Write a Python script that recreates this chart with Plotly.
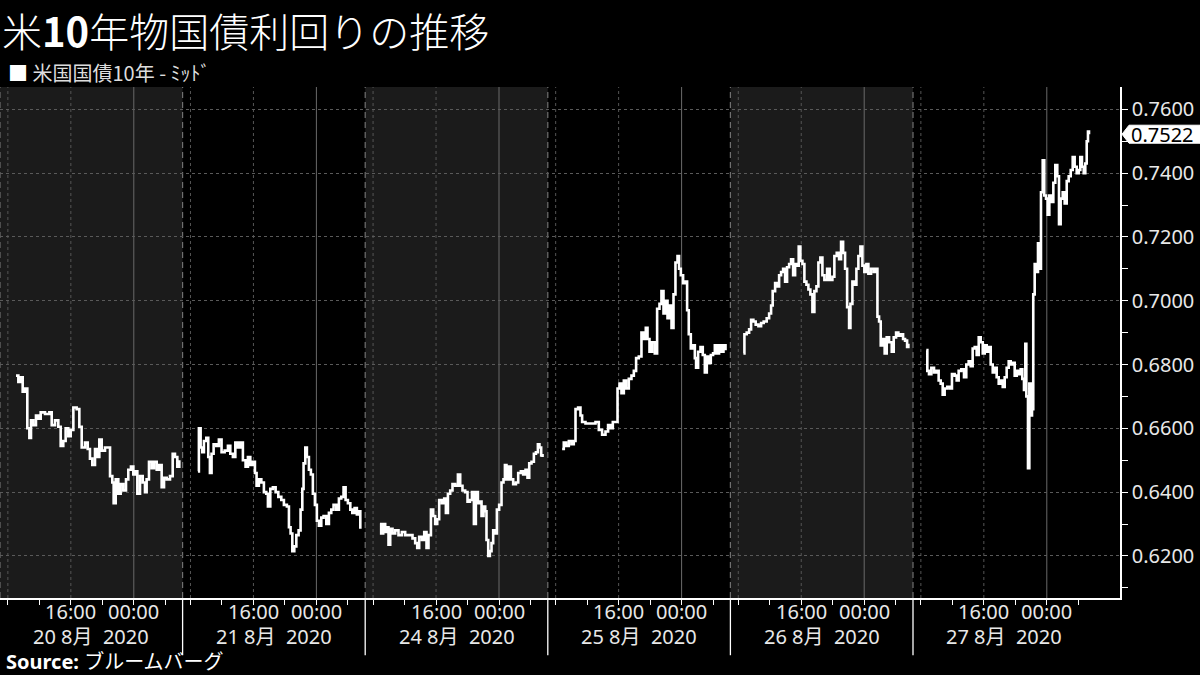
import plotly.graph_objects as go

# ---------------- data ----------------
# hours since session start (07:00 local) and yield values, one list pair per session
dates = ["20 8月  2020", "21 8月  2020", "24 8月  2020", "25 8月  2020", "26 8月  2020", "27 8月  2020"]

h_0820 = [2.03, 2.33, 2.63, 2.88, 3.18, 3.47, 3.73, 3.94, 4.23, 4.57, 4.87, 5.17, 5.72, 6.27, 6.57, 6.99,
          7.41, 7.71, 8.04, 8.34, 8.68, 8.98, 9.32, 9.74, 10.08, 10.38, 10.80, 11.14, 11.43, 11.73, 12.07,
          12.37, 12.62, 12.92, 13.34, 13.76, 13.98, 14.27, 14.44, 14.70, 15.03, 15.33, 15.67, 16.01, 16.30,
          16.64, 16.94, 17.24, 17.45, 17.79, 18.13, 18.42, 18.63, 18.93, 19.27, 19.57, 19.91, 20.24, 20.54,
          20.84, 21.18, 21.60, 21.94, 22.23, 22.53, 22.78]
v_0820 = [0.6765, 0.6745, 0.6760, 0.6715, 0.6725, 0.6600, 0.6570, 0.6625, 0.6610, 0.6640, 0.6630, 0.6650,
          0.6645, 0.6650, 0.6610, 0.6625, 0.6605, 0.6545, 0.6560, 0.6600, 0.6575, 0.6595, 0.6665, 0.6660,
          0.6605, 0.6540, 0.6555, 0.6535, 0.6505, 0.6485, 0.6535, 0.6510, 0.6565, 0.6530, 0.6540, 0.6540,
          0.6450, 0.6430, 0.6365, 0.6440, 0.6395, 0.6425, 0.6405, 0.6440, 0.6470, 0.6480, 0.6455, 0.6465,
          0.6395, 0.6450, 0.6430, 0.6400, 0.6440, 0.6495, 0.6475, 0.6495, 0.6470, 0.6485, 0.6415, 0.6445,
          0.6440, 0.6450, 0.6520, 0.6510, 0.6480, 0.6500]

h_0821 = [1.95, 2.07, 2.29, 2.50, 2.71, 3.01, 3.26, 3.47, 3.68, 3.94, 4.28, 4.61, 4.95, 5.34, 5.76, 6.06,
          6.39, 6.70, 7.03, 7.33, 7.66, 8.00, 8.30, 8.60, 8.93, 9.19, 9.40, 9.69, 10.00, 10.33, 10.63, 10.84,
          11.14, 11.47, 11.82, 12.16, 12.54, 12.87, 13.25, 13.51, 13.72, 13.94, 14.19, 14.45, 14.74, 14.99,
          15.21, 15.37, 15.59, 15.79, 16.05, 16.30, 16.55, 16.81, 17.06, 17.32, 17.62, 17.91, 18.26, 18.59,
          18.89, 19.18, 19.53, 19.86, 20.16, 20.45, 20.71, 21.00, 21.31, 21.56, 21.85, 22.14, 22.40, 22.58]
v_0821 = [0.6465, 0.6600, 0.6540, 0.6525, 0.6560, 0.6570, 0.6510, 0.6460, 0.6520, 0.6550, 0.6545, 0.6565,
          0.6525, 0.6530, 0.6545, 0.6520, 0.6510, 0.6555, 0.6540, 0.6555, 0.6500, 0.6480, 0.6510, 0.6485,
          0.6495, 0.6460, 0.6420, 0.6440, 0.6430, 0.6400, 0.6395, 0.6355, 0.6410, 0.6415, 0.6400, 0.6385,
          0.6375, 0.6360, 0.6355, 0.6290, 0.6270, 0.6215, 0.6230, 0.6265, 0.6280, 0.6345, 0.6410, 0.6490,
          0.6540, 0.6510, 0.6470, 0.6455, 0.6395, 0.6360, 0.6310, 0.6295, 0.6320, 0.6325, 0.6300, 0.6335,
          0.6345, 0.6360, 0.6345, 0.6380, 0.6385, 0.6415, 0.6375, 0.6365, 0.6345, 0.6335, 0.6350, 0.6330,
          0.6340, 0.6285]

h_0824 = [1.87, 2.03, 2.29, 2.54, 2.80, 2.96, 3.18, 3.47, 3.81, 4.23, 4.66, 5.08, 5.59, 6.01, 6.35, 6.61,
          6.86, 7.20, 7.50, 7.79, 8.04, 8.35, 8.64, 8.89, 9.15, 9.40, 9.74, 10.04, 10.25, 10.51, 10.80, 11.09,
          11.43, 11.78, 12.07, 12.36, 12.70, 13.00, 13.30, 13.56, 13.81, 14.06, 14.32, 14.57, 14.78, 15.03,
          15.25, 15.41, 15.63, 15.84, 16.05, 16.26, 16.52, 16.73, 17.02, 17.32, 17.57, 17.75, 17.95, 18.21,
          18.51, 18.80, 19.15, 19.44, 19.78, 20.07, 20.37, 20.62, 20.84, 21.13, 21.43, 21.69, 21.94, 22.14,
          22.36, 22.53]
v_0824 = [0.6300, 0.6270, 0.6300, 0.6275, 0.6290, 0.6235, 0.6285, 0.6270, 0.6280, 0.6265, 0.6275, 0.6265,
          0.6265, 0.6255, 0.6240, 0.6225, 0.6260, 0.6250, 0.6275, 0.6225, 0.6265, 0.6345, 0.6325, 0.6300,
          0.6315, 0.6375, 0.6365, 0.6380, 0.6335, 0.6395, 0.6405, 0.6425, 0.6420, 0.6455, 0.6420, 0.6405,
          0.6400, 0.6370, 0.6375, 0.6400, 0.6300, 0.6400, 0.6365, 0.6370, 0.6325, 0.6355, 0.6340, 0.6250,
          0.6200, 0.6215, 0.6240, 0.6280, 0.6270, 0.6345, 0.6360, 0.6430, 0.6440, 0.6485, 0.6440, 0.6480,
          0.6440, 0.6425, 0.6430, 0.6460, 0.6465, 0.6455, 0.6470, 0.6445, 0.6490, 0.6495, 0.6520, 0.6525,
          0.6550, 0.6540, 0.6515, 0.6510]

h_0825 = [1.82, 2.03, 2.33, 2.67, 3.01, 3.30, 3.52, 3.85, 4.15, 4.36, 4.79, 5.43, 6.06, 6.48, 6.90, 7.33,
          7.66, 7.97, 8.26, 8.60, 8.86, 9.11, 9.36, 9.66, 9.95, 10.29, 10.63, 10.93, 11.22, 11.56, 11.90,
          12.20, 12.45, 12.67, 12.92, 13.25, 13.59, 13.89, 14.19, 14.44, 14.70, 14.95, 15.21, 15.46, 15.72,
          15.97, 16.22, 16.48, 16.68, 16.90, 17.19, 17.49, 17.70, 17.91, 18.17, 18.42, 18.68, 18.84, 19.10,
          19.40, 19.69, 19.95, 20.20, 20.46, 20.71, 21.00, 21.22, 21.51, 21.76, 22.07, 22.32, 22.58]
v_0825 = [0.6535, 0.6555, 0.6545, 0.6560, 0.6550, 0.6560, 0.6660, 0.6665, 0.6640, 0.6620, 0.6615, 0.6615,
          0.6620, 0.6595, 0.6580, 0.6590, 0.6610, 0.6600, 0.6620, 0.6620, 0.6725, 0.6740, 0.6710, 0.6750,
          0.6725, 0.6755, 0.6765, 0.6780, 0.6820, 0.6825, 0.6900, 0.6880, 0.6915, 0.6880, 0.6840, 0.6870,
          0.6835, 0.6975, 0.6990, 0.7030, 0.6960, 0.7000, 0.6945, 0.6985, 0.6915, 0.7020, 0.7120, 0.7140,
          0.7100, 0.7080, 0.7055, 0.7060, 0.6970, 0.6895, 0.6850, 0.6860, 0.6820, 0.6790, 0.6840, 0.6855,
          0.6830, 0.6775, 0.6825, 0.6805, 0.6830, 0.6835, 0.6860, 0.6835, 0.6860, 0.6840, 0.6860, 0.6845]

h_0826 = [1.65, 1.78, 2.07, 2.38, 2.63, 2.92, 3.21, 3.56, 3.90, 4.23, 4.61, 4.92, 5.17, 5.37, 5.68, 5.93,
          6.19, 6.44, 6.70, 6.95, 7.20, 7.46, 7.71, 7.97, 8.22, 8.47, 8.68, 8.89, 9.15, 9.40, 9.66, 9.91,
          10.16, 10.42, 10.67, 10.93, 11.18, 11.43, 11.69, 11.94, 12.29, 12.62, 12.96, 13.21, 13.51, 13.81,
          14.06, 14.32, 14.57, 14.83, 15.08, 15.25, 15.50, 15.75, 16.01, 16.26, 16.52, 16.77, 17.02, 17.28,
          17.53, 17.87, 18.21, 18.46, 18.68, 18.89, 19.10, 19.35, 19.60, 19.86, 20.16, 20.50, 20.75, 21.05,
          21.34, 21.64, 21.94, 22.19, 22.45, 22.61]
v_0826 = [0.6835, 0.6895, 0.6900, 0.6910, 0.6940, 0.6935, 0.6925, 0.6920, 0.6930, 0.6935, 0.6945, 0.6960,
          0.6985, 0.7030, 0.7055, 0.7045, 0.7080, 0.7090, 0.7100, 0.7060, 0.7105, 0.7115, 0.7130, 0.7080,
          0.7115, 0.7110, 0.7170, 0.7125, 0.7115, 0.7060, 0.7050, 0.7035, 0.7020, 0.6965, 0.7030, 0.7045,
          0.7120, 0.7135, 0.7080, 0.7065, 0.7100, 0.7065, 0.7075, 0.7140, 0.7150, 0.7130, 0.7185, 0.7150,
          0.7100, 0.6980, 0.6915, 0.6990, 0.7060, 0.7050, 0.7100, 0.7140, 0.7170, 0.7110, 0.7090, 0.7115,
          0.7085, 0.7100, 0.7090, 0.7100, 0.6950, 0.6935, 0.6860, 0.6880, 0.6835, 0.6885, 0.6870, 0.6840,
          0.6885, 0.6900, 0.6890, 0.6895, 0.6880, 0.6875, 0.6855, 0.6865]

h_0827 = [1.69, 1.82, 2.03, 2.33, 2.67, 2.96, 3.26, 3.52, 3.77, 4.02, 4.36, 4.70, 4.95, 5.29, 5.55, 5.80,
          6.14, 6.48, 6.77, 7.07, 7.33, 7.58, 7.84, 8.09, 8.35, 8.60, 8.86, 9.11, 9.36, 9.62, 9.87, 10.13,
          10.38, 10.63, 10.89, 11.14, 11.40, 11.65, 11.90, 12.16, 12.41, 12.67, 12.92, 13.18, 13.43, 13.68,
          13.89, 14.10, 14.27, 14.40, 14.61, 14.78, 14.95, 15.12, 15.28, 15.46, 15.67, 15.88, 16.10, 16.26,
          16.48, 16.68, 16.90, 17.11, 17.32, 17.57, 17.83, 18.08, 18.33, 18.55, 18.76, 19.02, 19.27, 19.53,
          19.78, 20.04, 20.29, 20.54, 20.80, 21.05, 21.26, 21.47, 21.69, 21.89, 22.07, 22.23, 22.36]
v_0827 = [0.6845, 0.6780, 0.6770, 0.6790, 0.6775, 0.6780, 0.6750, 0.6740, 0.6705, 0.6725, 0.6730, 0.6725,
          0.6770, 0.6765, 0.6750, 0.6780, 0.6785, 0.6760, 0.6800, 0.6810, 0.6795, 0.6850, 0.6855, 0.6830,
          0.6885, 0.6870, 0.6835, 0.6860, 0.6840, 0.6855, 0.6800, 0.6775, 0.6790, 0.6760, 0.6740, 0.6750,
          0.6730, 0.6760, 0.6790, 0.6810, 0.6800, 0.6805, 0.6765, 0.6780, 0.6770, 0.6785, 0.6755, 0.6720,
          0.6865, 0.6700, 0.6475, 0.6740, 0.6640, 0.6660, 0.7020, 0.7115, 0.7090, 0.7180, 0.7100, 0.7340,
          0.7440, 0.7330, 0.7320, 0.7270, 0.7330, 0.7310, 0.7370, 0.7425, 0.7390, 0.7240, 0.7320, 0.7340,
          0.7305, 0.7375, 0.7390, 0.7410, 0.7450, 0.7420, 0.7400, 0.7410, 0.7450, 0.7420, 0.7400, 0.7430,
          0.7500, 0.7530, 0.7522]

sessions_h = [h_0820, h_0821, h_0824, h_0825, h_0826, h_0827]
sessions_v = [v_0820, v_0821, v_0824, v_0825, v_0826, v_0827]
last_value = v_0827[-1]

SESSION_HOURS = 23.2            # length of one trading session on the compressed time axis
tick_hours = [1, 5, 9, 13, 17, 21]   # 08:00, 12:00, 16:00, 20:00, 00:00, 04:00
label_hours = [9, 17]
label_text = ["16:00", "00:00"]
dotted_hours = [1, 9]
solid_hours = [17]
x_range = [0, 142.3]
y_range = [0.6068, 0.767]

title_text = "米<b>10</b>年物国債利回りの推移"
legend_text = "<span style='color:white'>■</span> 米国国債10年 - ﾐｯﾄﾞ"
source_text = "<b>Source:</b> ブルームバーグ"

# ---------------- build ----------------
FONT = "Noto Sans, Noto Sans CJK JP, sans-serif"
xs, ys = [], []
for k, (hs, vs) in enumerate(zip(sessions_h, sessions_v)):
    xs += [k * SESSION_HOURS + h for h in hs] + [None]
    ys += list(vs) + [None]

fig = go.Figure()
fig.add_trace(go.Scatter(x=xs, y=ys, mode="lines", connectgaps=False,
                         line=dict(color="white", width=2.6, shape="hv"),
                         hoverinfo="skip", showlegend=False))

shapes = []
annotations = []
n = len(sessions_h)
for k in range(n):
    start = k * SESSION_HOURS
    if k % 2 == 0:
        shapes.append(dict(type="rect", xref="x", yref="paper", x0=start, x1=start + SESSION_HOURS,
                           y0=0, y1=1, fillcolor="#1b1b1b", line_width=0, layer="below"))
    shapes.append(dict(type="line", xref="x", yref="paper", x0=start, x1=start, y0=0, y1=1,
                       line=dict(color="#707070", width=1.2, dash="6px,4px"), layer="below"))
    for h in dotted_hours:
        shapes.append(dict(type="line", xref="x", yref="paper", x0=start + h, x1=start + h, y0=0, y1=1,
                           line=dict(color="#555555", width=1, dash="3px,3px"), layer="below"))
    for h in solid_hours:
        shapes.append(dict(type="line", xref="x", yref="paper", x0=start + h, x1=start + h, y0=0, y1=1,
                           line=dict(color="#6a6a6a", width=1), layer="below"))
    if k > 0:
        shapes.append(dict(type="line", xref="x", yref="paper", x0=start, x1=start, y0=0, y1=-0.112,
                           line=dict(color="white", width=1.3)))
    for h, t in zip(label_hours, label_text):
        annotations.append(dict(x=start + h, xref="x", y=-0.027, yref="paper", text=t, showarrow=False,
                                xanchor="center", yanchor="middle", font=dict(size=20, color="#e8e8e8")))
    annotations.append(dict(x=start + SESSION_HOURS / 2, xref="x", y=-0.076, yref="paper", text=dates[k],
                            showarrow=False, xanchor="center", yanchor="middle",
                            font=dict(size=20, color="#e8e8e8")))

tickvals = [k * SESSION_HOURS + h for k in range(n) for h in tick_hours]

# current value tag
paper_y = (last_value - y_range[0]) / (y_range[1] - y_range[0])
shapes.append(dict(type="path", xref="paper", yref="paper", xsizemode="pixel", ysizemode="pixel",
                   xanchor=1, yanchor=paper_y,
                   path="M 2,0 L 9,9 L 80,9 L 80,-9 L 9,-9 Z",
                   fillcolor="white", line=dict(color="white", width=1)))
annotations.append(dict(x=1, xref="paper", y=last_value, yref="y", text=f"{last_value:.4f}",
                        showarrow=False, xanchor="left", yanchor="middle", xshift=9,
                        font=dict(size=20, color="black")))

# title / legend / source (pixel offsets from the plot-area top / bottom)
annotations.append(dict(x=0.0, xref="paper", y=1.0, yref="paper", yshift=87 - 29.5, text=title_text,
                        showarrow=False, xanchor="left", yanchor="middle",
                        font=dict(size=40, color="white", family="Noto Sans CJK JP", weight=300)))
annotations.append(dict(x=0.005, xref="paper", y=1.0, yref="paper", yshift=87 - 72, text=legend_text,
                        showarrow=False, xanchor="left", yanchor="middle",
                        font=dict(size=20, color="#dddddd", family="Noto Sans CJK JP")))
annotations.append(dict(x=0.004, xref="paper", y=0.0, yref="paper", yshift=598 - 661, text=source_text,
                        showarrow=False, xanchor="left", yanchor="middle", font=dict(size=20, color="white")))

fig.update_layout(
    width=1200, height=675,
    paper_bgcolor="black", plot_bgcolor="black",
    margin=dict(l=0, r=80, t=87, b=77),
    font=dict(family=FONT, color="#e8e8e8"),
    showlegend=False,
    shapes=shapes, annotations=annotations,
    xaxis=dict(range=x_range, showgrid=False, zeroline=False, showline=True, linecolor="white",
               linewidth=1.5, ticks="outside", ticklen=5, tickcolor="white", tickwidth=1,
               tickvals=tickvals, showticklabels=False, fixedrange=True, automargin=False),
    yaxis=dict(range=y_range, side="right", tick0=0.62, dtick=0.02, tickformat=".4f",
               showgrid=True, gridcolor="#5a5a5a", griddash="3px,3px", gridwidth=1,
               zeroline=False, showline=True, linecolor="white", linewidth=1.5,
               ticks="outside", ticklen=6, tickcolor="white", automargin=False,
               minor=dict(dtick=0.01, tick0=0.61, ticks="outside", ticklen=6, tickcolor="white", showgrid=False),
               tickfont=dict(size=20, color="#e8e8e8"), fixedrange=True),
)

fig.write_html("out.html", config={"displayModeBar": False},
               post_script="document.body.style.margin='0';document.body.style.overflow='hidden';")
